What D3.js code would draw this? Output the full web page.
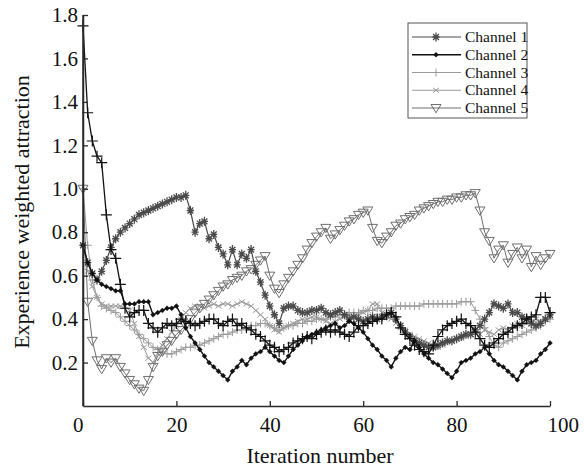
<!DOCTYPE html>
<html><head><meta charset="utf-8">
<script src="https://cdn.jsdelivr.net/npm/d3@7"></script>
<style>body{margin:0;background:#fff}svg{display:block}</style>
</head><body>
<script>
const xTicks = [0, 20, 40, 60, 80, 100];
const yTicks = [0.2, 0.4, 0.6, 0.8, 1.0, 1.2, 1.4, 1.6, 1.8];
const channelNames = ["Channel 1", "Channel 2", "Channel 3", "Channel 4", "Channel 5"];

// Channel 1 (asterisk)
const channel1 = [0.74,0.66,0.61,0.58,0.62,0.67,0.73,0.77,0.80,0.82,
 0.84,0.86,0.88,0.89,0.90,0.91,0.92,0.93,0.94,0.95,
 0.96,0.96,0.97,0.90,0.80,0.84,0.85,0.77,0.79,0.73,
 0.70,0.65,0.72,0.65,0.70,0.68,0.72,0.62,0.57,0.51,
 0.46,0.42,0.38,0.45,0.46,0.46,0.44,0.43,0.43,0.44,
 0.44,0.45,0.43,0.42,0.43,0.44,0.42,0.40,0.41,0.40,
 0.39,0.40,0.41,0.40,0.41,0.42,0.43,0.40,0.37,0.34,
 0.32,0.30,0.29,0.28,0.27,0.27,0.28,0.29,0.30,0.30,
 0.31,0.32,0.33,0.33,0.35,0.37,0.40,0.43,0.47,0.46,
 0.45,0.47,0.43,0.43,0.41,0.40,0.38,0.37,0.38,0.40,
 0.42];
// Channel 2 (dots)
const channel2 = [0.74,0.66,0.61,0.58,0.56,0.55,0.54,0.53,0.53,0.47,
 0.47,0.47,0.48,0.48,0.48,0.42,0.43,0.44,0.45,0.45,
 0.46,0.42,0.36,0.32,0.29,0.26,0.23,0.20,0.18,0.16,
 0.14,0.12,0.16,0.18,0.21,0.19,0.22,0.24,0.25,0.27,
 0.25,0.23,0.21,0.20,0.23,0.26,0.28,0.30,0.32,0.33,
 0.34,0.35,0.36,0.37,0.38,0.36,0.37,0.39,0.38,0.36,
 0.34,0.31,0.28,0.26,0.23,0.21,0.18,0.22,0.25,0.27,
 0.26,0.30,0.27,0.24,0.22,0.20,0.19,0.17,0.15,0.13,
 0.16,0.20,0.21,0.22,0.24,0.25,0.27,0.24,0.21,0.19,
 0.18,0.16,0.14,0.12,0.16,0.19,0.20,0.21,0.24,0.26,
 0.29];
// Channel 3 (light plus)
const channel3 = [1.00,0.74,0.58,0.50,0.46,0.45,0.44,0.43,0.41,0.39,
 0.37,0.35,0.33,0.31,0.29,0.27,0.26,0.25,0.24,0.24,
 0.25,0.26,0.27,0.27,0.28,0.28,0.29,0.30,0.31,0.32,
 0.33,0.33,0.34,0.35,0.35,0.36,0.37,0.37,0.38,0.38,
 0.37,0.36,0.35,0.36,0.37,0.37,0.38,0.38,0.39,0.39,
 0.40,0.40,0.40,0.41,0.41,0.42,0.42,0.43,0.43,0.43,
 0.44,0.44,0.44,0.45,0.45,0.45,0.45,0.46,0.46,0.46,
 0.46,0.46,0.46,0.47,0.47,0.47,0.47,0.47,0.47,0.47,
 0.47,0.48,0.48,0.48,0.44,0.40,0.36,0.32,0.28,0.27,
 0.29,0.30,0.31,0.32,0.33,0.34,0.35,0.36,0.37,0.39,
 0.40];
// Channel 4 (light x)
const channel4 = [0.74,0.62,0.55,0.50,0.47,0.46,0.46,0.46,0.46,0.46,
 0.44,0.38,0.32,0.27,0.22,0.20,0.24,0.28,0.31,0.34,
 0.37,0.40,0.43,0.45,0.46,0.46,0.45,0.46,0.47,0.46,
 0.47,0.47,0.46,0.47,0.48,0.47,0.46,0.44,0.42,0.40,
 0.37,0.35,0.34,0.36,0.37,0.38,0.39,0.40,0.40,0.41,
 0.41,0.40,0.39,0.38,0.39,0.40,0.41,0.42,0.41,0.42,
 0.43,0.44,0.47,0.47,0.43,0.41,0.40,0.38,0.36,0.35,
 0.33,0.32,0.31,0.30,0.29,0.28,0.27,0.28,0.29,0.30,
 0.31,0.31,0.32,0.33,0.34,0.33,0.35,0.34,0.33,0.35,
 0.36,0.35,0.37,0.38,0.37,0.38,0.39,0.40,0.39,0.40,
 0.41];
// Channel 5 (triangles)
const channel5 = [1.00,0.48,0.30,0.21,0.17,0.22,0.20,0.22,0.18,0.15,
 0.12,0.10,0.08,0.07,0.12,0.18,0.23,0.25,0.28,0.30,
 0.33,0.35,0.37,0.40,0.43,0.45,0.47,0.49,0.51,0.53,
 0.55,0.56,0.58,0.59,0.60,0.62,0.63,0.65,0.67,0.69,
 0.60,0.54,0.52,0.56,0.59,0.62,0.65,0.68,0.72,0.75,
 0.78,0.80,0.82,0.77,0.79,0.81,0.83,0.85,0.86,0.88,
 0.89,0.90,0.82,0.76,0.75,0.78,0.80,0.83,0.84,0.86,
 0.87,0.88,0.90,0.91,0.92,0.93,0.94,0.94,0.95,0.95,
 0.96,0.96,0.97,0.97,0.98,0.90,0.80,0.76,0.68,0.72,
 0.74,0.66,0.70,0.73,0.68,0.72,0.64,0.69,0.65,0.68,
 0.70];
// Additional black "+" trace seen in the plot (not in legend)
const blackPlusTrace = [1.75,1.35,1.22,1.15,1.12,0.88,0.72,0.68,0.56,0.45,
 0.41,0.43,0.44,0.44,0.38,0.36,0.34,0.36,0.38,0.37,
 0.38,0.40,0.39,0.38,0.37,0.38,0.39,0.40,0.40,0.38,
 0.37,0.39,0.40,0.37,0.38,0.36,0.35,0.33,0.32,0.30,
 0.28,0.27,0.25,0.26,0.27,0.29,0.30,0.31,0.32,0.31,
 0.33,0.34,0.35,0.34,0.35,0.34,0.33,0.32,0.34,0.37,
 0.37,0.38,0.39,0.40,0.40,0.42,0.43,0.41,0.36,0.33,
 0.31,0.28,0.26,0.25,0.24,0.28,0.32,0.35,0.37,0.38,
 0.39,0.40,0.38,0.37,0.34,0.31,0.28,0.27,0.29,0.31,
 0.33,0.34,0.36,0.37,0.38,0.40,0.41,0.42,0.50,0.50,
 0.43];

const W = 584, H = 468;
const FONT = "'Liberation Serif','Times New Roman',serif";
const svg = d3.select("body").append("svg").attr("width", W).attr("height", H)
  .style("font-family", FONT);

const x = d3.scaleLinear().domain([0, 100]).range([83, 550]);
const y = d3.scaleLinear().domain([0, 1.8]).range([406, 15]);

// custom symbols
const symPlus = {draw(c, r){ c.moveTo(-r,0); c.lineTo(r,0); c.moveTo(0,-r); c.lineTo(0,r); }};
const symAst = {draw(c, r){ c.moveTo(-r*0.8,0); c.lineTo(r*0.8,0); c.moveTo(0,-r); c.lineTo(0,r);
  const d=r*0.65; c.moveTo(-d,-d); c.lineTo(d,d); c.moveTo(-d,d); c.lineTo(d,-d); }};
const symX = {draw(c, r){ c.moveTo(-r,-r*0.8); c.lineTo(r,r*0.8); c.moveTo(-r,r*0.8); c.lineTo(r,-r*0.8); }};
const symTri = {draw(c, r){ c.moveTo(-r,-r*0.7); c.lineTo(r,-r*0.7); c.lineTo(0,r*0.95); c.closePath(); }};
const symDot = {draw(c, r){ c.moveTo(r,0); c.lineTo(0,r); c.lineTo(-r,0); c.lineTo(0,-r); c.closePath(); }};

const series = [
  {name: channelNames[2], data: channel3, color: "#9a9a9a", lw: 1, sym: symPlus, r: 4, fill: "none", sw: 1},
  {name: channelNames[3], data: channel4, color: "#9a9a9a", lw: 1, sym: symX, r: 3, fill: "none", sw: 1},
  {name: channelNames[4], data: channel5, color: "#6e6e6e", lw: 1, sym: symTri, r: 5, fill: "none", sw: 1},
  {name: channelNames[0], data: channel1, color: "#4a4a4a", lw: 1.2, sym: symAst, r: 4.5, fill: "none", sw: 1.3},
  {name: channelNames[1], data: channel2, color: "#111", lw: 1.4, sym: symDot, r: 2.4, fill: "#111", sw: 0.5},
  {name: "trace", data: blackPlusTrace, color: "#111", lw: 1.3, sym: symPlus, r: 5.5, fill: "none", sw: 1.2}
];

const line = d3.line().x((d, i) => x(i)).y(d => y(d));
const plot = svg.append("g");
series.forEach(s => {
  plot.append("path").datum(s.data).attr("d", line)
    .attr("fill", "none").attr("stroke", s.color).attr("stroke-width", s.lw);
  const gen = d3.symbol().type(s.sym).size(s.r);
  plot.append("g").selectAll("path").data(s.data).join("path")
    .attr("transform", (d, i) => `translate(${x(i)},${y(d)})`)
    .attr("d", gen())
    .attr("fill", s.fill).attr("stroke", s.color).attr("stroke-width", s.sw);
});

// axes
const axisColor = "#2a2a2a";
const xAxis = svg.append("g").attr("transform", `translate(0,${y(0)})`)
  .call(d3.axisBottom(x).tickValues(xTicks).tickFormat(d3.format("d")).tickSizeInner(-5).tickSizeOuter(0).tickPadding(11));
const yAxis = svg.append("g").attr("transform", `translate(${x(0)},0)`)
  .call(d3.axisLeft(y).tickValues(yTicks).tickFormat(d3.format(".1f")).tickSizeInner(-5).tickSizeOuter(0).tickPadding(5));
[xAxis, yAxis].forEach(a => {
  a.attr("font-family", FONT);
  a.select(".domain").attr("stroke", axisColor).attr("stroke-width", 1.5);
  a.selectAll(".tick line").attr("stroke", axisColor).attr("stroke-width", 1.3);
  a.selectAll("text").attr("fill", "#111").style("font-size", "21px").style("font-family", FONT);
});
svg.append("line").attr("x1", x(0)).attr("x2", x(0)).attr("y1", y(0)).attr("y2", y(1.8))
  .attr("stroke", axisColor).attr("stroke-width", 1.5);
xAxis.selectAll(".tick text").attr("text-anchor", d => d === 0 ? "end" : d === 100 ? "start" : "middle")
  .attr("dx", d => d === 0 ? "0px" : d === 100 ? "-3px" : 0);

svg.append("text").attr("x", 320).attr("y", 463).attr("text-anchor", "middle")
  .style("font-size", "22px").attr("fill", "#111").text("Iteration number");
svg.append("text").attr("transform", "translate(29,212) rotate(-90)").attr("text-anchor", "middle")
  .style("font-size", "22px").attr("fill", "#111").text("Experience weighted attraction");

// legend
const legend = svg.append("g");
legend.append("rect").attr("x", 408).attr("y", 23).attr("width", 119).attr("height", 95)
  .attr("fill", "#fff").attr("stroke", "#555").attr("stroke-width", 1);
const legendOrder = [series[3], series[4], series[0], series[1], series[2]];
const ly = d3.scalePoint().domain(channelNames).range([37, 108]);
legendOrder.forEach(s => {
  const yy = ly(s.name);
  legend.append("line").attr("x1", 412).attr("x2", 461).attr("y1", yy).attr("y2", yy)
    .attr("stroke", s.color).attr("stroke-width", s.lw);
  legend.append("path").attr("transform", `translate(436,${yy})`)
    .attr("d", d3.symbol().type(s.sym).size(s.r)())
    .attr("fill", s.fill).attr("stroke", s.color).attr("stroke-width", s.sw);
  legend.append("text").attr("x", 465).attr("y", yy + 5).style("font-size", "15.5px")
    .attr("fill", "#111").text(s.name);
});
</script>
</body></html>
